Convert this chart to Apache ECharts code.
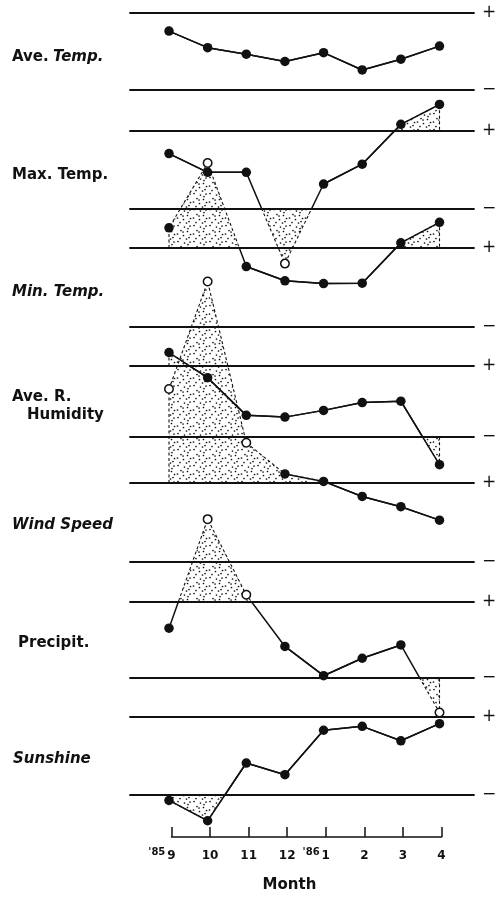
<!DOCTYPE html>
<html><head><meta charset="utf-8">
<script src="https://cdn.jsdelivr.net/npm/echarts@6/dist/echarts.min.js"></script>
<style>html,body{margin:0;padding:0;background:#fff}#c{width:504px;height:897px}</style>
</head><body><div id="c"></div>
<script>
// ---- data: monthly deviations, scaled so that the "+" line = +1 and the "−" line = −1 ----
const months = ['9','10','11','12','1','2','3','4'];
const yearMarks = {0: "'85", 4: "'86"};
const panelNames = ['Ave. Temp.', 'Max. Temp.', 'Min. Temp.', 'Ave. R.\nHumidity', 'Wind Speed', 'Precipit.', 'Sunshine'];
const aveTemp   = [0.53, 0.10, -0.07, -0.26, -0.03, -0.48, -0.20, 0.14];
const maxTemp   = [0.42, -0.06, -0.06, -2.40, -0.36, 0.15, 1.17, 1.68];
const minTemp   = [1.51, 3.15, 0.53, 0.17, 0.10, 0.11, 1.13, 1.65];
const humidity  = [1.38, 0.67, -0.39, -0.44, -0.25, -0.03, 0.01, -1.78];
const windSpeed = [3.38, 6.10, 2.02, 1.23, 1.04, 0.66, 0.40, 0.06];
const precipit  = [0.31, 3.18, 1.19, -0.17, -0.94, -0.48, -0.13, -1.91];
const sunshine  = [-1.14, -1.66, -0.18, -0.48, 0.66, 0.76, 0.39, 0.83];
// months drawn with an open circle
const aveTempOpen = [], maxTempOpen = [3], minTempOpen = [1], humidityOpen = [],
      windSpeedOpen = [0, 1, 2], precipitOpen = [1, 2, 7], sunshineOpen = [];

// ---- layout (pixels) ----
const W = 504, H = 897, INK = '#111';
const bandTop = [13, 131, 248, 366, 483, 602, 717];
const bandBot = [90, 209, 327, 437, 562, 678, 795];
const lineL = 130, lineR = 474, ptX0 = 169, ptX1 = 439.5;
const axX0 = 171.5, axX1 = 441.5, axisY = 837;
const unit = (ptX1 - ptX0) / 7;
const xMin = -(ptX0 - lineL) / unit, xMax = 7 + (lineR - ptX1) / unit;
const labelLeft = [12, 12, 12, 12, 12, 18, 13];
const labelMid = [57, 175, 292, 397, 525, 643, 759];
const labelRich = [
  '{n|Ave.} {i|Temp.}', '{n|Max. Temp.}', '{i|Min. Temp.}', '{n|Ave. R.}\n{h|Humidity}',
  '{i|Wind Speed}', '{n|Precipit.}', '{i|Sunshine}'];

const panels = [
  {name: panelNames[0], vals: aveTemp, open: aveTempOpen}, {name: panelNames[1], vals: maxTemp, open: maxTempOpen},
  {name: panelNames[2], vals: minTemp, open: minTempOpen}, {name: panelNames[3], vals: humidity, open: humidityOpen},
  {name: panelNames[4], vals: windSpeed, open: windSpeedOpen}, {name: panelNames[5], vals: precipit, open: precipitOpen},
  {name: panelNames[6], vals: sunshine, open: sunshineOpen}];

// stipple pattern
const tile = document.createElement('canvas'); tile.width = 16; tile.height = 16;
const tctx = tile.getContext('2d'); tctx.fillStyle = INK;
[[2,1.5],[8.5,3],[14,2],[5,6.5],[11.5,7.5],[1.5,10],[7.5,11.5],[14.5,10.5],[4,14.5],[10.5,15],[13,13.5],[7,8],[12,4.5]]
  .forEach(([x, y]) => { tctx.beginPath(); tctx.arc(x, y, 0.85, 0, Math.PI * 2); tctx.fill(); });
const stipple = {image: tile, repeat: 'repeat'};

const grid = [], xAxis = [], yAxis = [], series = [], title = [];
const lineStyleSolid = {color: INK, width: 1.5};
const bandLine = {show: true, onZero: false, lineStyle: {color: INK, width: 1.8}};
const dashStyle = {color: INK, width: 1.1, type: [3, 2.5]};

panels.forEach((p, k) => {
  const half = (bandBot[k] - bandTop[k]) / 2;
  const gB = grid.length; grid.push({left: lineL, right: W - lineR, top: bandTop[k], height: bandBot[k] - bandTop[k]});
  const gU = grid.length; grid.push({left: lineL, right: W - lineR, top: 0, height: bandTop[k]});
  const gL = grid.length; grid.push({left: lineL, right: W - lineR, top: bandBot[k], height: H - bandBot[k]});

  const xB = xAxis.length;
  xAxis.push({gridIndex: gB, type: 'value', min: xMin, max: xMax, position: 'bottom', axisLine: bandLine,
    axisTick: {show: false}, axisLabel: {show: false}, splitLine: {show: false}});
  xAxis.push({gridIndex: gB, type: 'value', min: xMin, max: xMax, position: 'top', axisLine: bandLine,
    axisTick: {show: false}, axisLabel: {show: false}, splitLine: {show: false}});
  const xU = xAxis.length; xAxis.push({gridIndex: gU, type: 'value', min: xMin, max: xMax, show: false});
  const xL = xAxis.length; xAxis.push({gridIndex: gL, type: 'value', min: xMin, max: xMax, show: false});

  const yB = yAxis.length;
  yAxis.push({gridIndex: gB, type: 'value', min: -1, max: 1, interval: 1, position: 'right',
    axisLine: {show: false}, axisTick: {show: false}, splitLine: {show: false},
    axisLabel: {formatter: v => v > 0 ? '+' : (v < 0 ? '\u2212' : ''), margin: 8, fontSize: 17,
      color: INK, fontFamily: 'DejaVu Sans'}});
  const yU = yAxis.length; yAxis.push({gridIndex: gU, type: 'value', min: 1, max: 1 + bandTop[k] / half, show: false});
  const yL = yAxis.length; yAxis.push({gridIndex: gL, type: 'value', min: -1 - (H - bandBot[k]) / half, max: -1, show: false});

  const pts = p.vals.map((v, i) => [i, v]);
  // solid line inside the band
  series.push({type: 'line', name: p.name, xAxisIndex: xB, yAxisIndex: yB, data: pts, clip: true, symbol: 'none',
    lineStyle: lineStyleSolid, z: 3, animation: false, silent: true});
  // solid line between two filled dots, wherever it goes
  series.push({type: 'line', name: p.name, xAxisIndex: xB, yAxisIndex: yB, clip: false, symbol: 'none',
    data: p.vals.map((v, i) => [i, p.open.includes(i) ? '-' : v]),
    lineStyle: lineStyleSolid, z: 3, animation: false, silent: true});
  // exceedance above "+"
  series.push({type: 'line', name: p.name, xAxisIndex: xU, yAxisIndex: yU, clip: true, symbol: 'none',
    data: [[0, 1], ...pts, [7, 1]], lineStyle: dashStyle,
    areaStyle: {color: stipple, origin: 'start', opacity: 1}, z: 2, animation: false, silent: true});
  // exceedance below "−"
  series.push({type: 'line', name: p.name, xAxisIndex: xL, yAxisIndex: yL, clip: true, symbol: 'none',
    data: [[0, -1], ...pts, [7, -1]], lineStyle: dashStyle,
    areaStyle: {color: stipple, origin: 'end', opacity: 1}, z: 2, animation: false, silent: true});
  // markers
  series.push({type: 'scatter', name: p.name, xAxisIndex: xB, yAxisIndex: yB, clip: false, symbol: 'circle',
    data: pts.map((pt, i) => p.open.includes(i)
      ? {value: pt, symbolSize: 8.5, itemStyle: {color: '#fff', borderColor: INK, borderWidth: 1.5, opacity: 1}}
      : {value: pt, symbolSize: 9.5, itemStyle: {color: INK, opacity: 1}}),
    itemStyle: {opacity: 1}, z: 5, animation: false, silent: true});

  title.push({text: labelRich[k], left: labelLeft[k], top: labelMid[k] - 9, padding: 0,
    textStyle: {fontSize: 15, lineHeight: 18, rich: {
      n: {fontFamily: 'DejaVu Sans', fontWeight: 'bold', fontSize: 15, lineHeight: 18, color: INK},
      i: {fontFamily: 'DejaVu Sans', fontWeight: 'bold', fontStyle: 'italic', fontSize: 15, lineHeight: 18, color: INK},
      h: {fontFamily: 'DejaVu Sans', fontWeight: 'bold', fontSize: 15, lineHeight: 18, color: INK, padding: [0, 0, 0, 15]}
    }}});
});

// month axis
const gA = grid.length;
grid.push({left: axX0, right: W - axX1, top: axisY - 30, height: 30});
xAxis.push({gridIndex: gA, type: 'value', min: 0, max: 7, interval: 1, position: 'bottom',
  axisLine: {show: true, onZero: false, lineStyle: {color: INK, width: 1.5}},
  axisTick: {show: true, inside: true, length: 10, lineStyle: {color: INK, width: 1.5}},
  splitLine: {show: false},
  axisLabel: {margin: 10, showMinLabel: true, showMaxLabel: true,
    formatter: v => {
      const i = Math.round(v);
      return yearMarks[i] ? '{yr|' + yearMarks[i] + '}{m|' + months[i] + '}{pad|}' : '{m|' + months[i] + '}';
    },
    rich: {
      m: {fontFamily: 'DejaVu Sans', fontWeight: 'bold', fontSize: 12, lineHeight: 18, color: INK, verticalAlign: 'middle'},
      yr: {fontFamily: 'DejaVu Sans', fontWeight: 'bold', fontSize: 10, lineHeight: 10, color: INK, verticalAlign: 'top', width: 21},
      pad: {width: 21}
    }},
  name: 'Month', nameLocation: 'middle', nameGap: 41,
  nameTextStyle: {fontFamily: 'DejaVu Sans', fontWeight: 'bold', fontSize: 15, color: INK, padding: [0, 34, 0, 0]}});
yAxis.push({gridIndex: gA, type: 'value', min: 0, max: 1, show: false});

const chart = echarts.init(document.getElementById('c'), null, {renderer: 'canvas'});
chart.setOption({animation: false, backgroundColor: '#fff', title, grid, xAxis, yAxis, series});
</script>
</body></html>
